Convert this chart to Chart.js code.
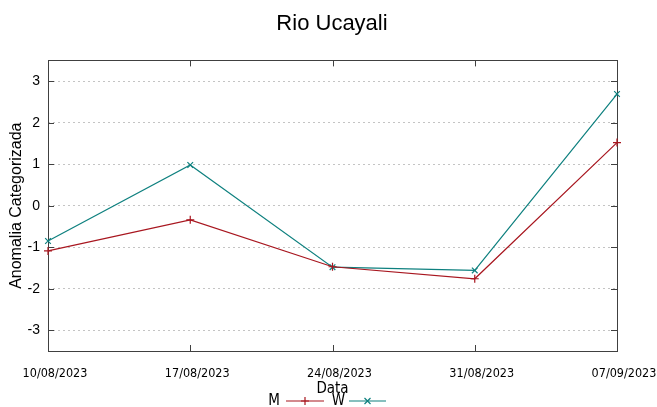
<!DOCTYPE html>
<html>
<head>
<meta charset="utf-8">
<script src="https://cdn.jsdelivr.net/npm/chart.js@4"></script>
<style>
  html, body { margin: 0; padding: 0; background: #fff; }
  #chart { display: block; }
</style>
</head>
<body>
<canvas id="chart" width="657" height="407"></canvas>
<script>
const dates = ['10/08/2023', '17/08/2023', '24/08/2023', '31/08/2023', '07/09/2023'];
const seriesNames = ['M', 'W'];
const mValues = [-1.09, -0.34, -1.47, -1.76, 1.52];
const wValues = [-0.85, 0.98, -1.48, -1.56, 2.69];
const yTicks = [-3, -2, -1, 0, 1, 2, 3];

const RED = '#a8161f';
const TEAL = '#0e807f';
const NARROW = "'Liberation Sans Narrow', 'DejaVu Sans Condensed', sans-serif";
const SANS = "'Liberation Sans', Arial, sans-serif";

// frame + inside tick marks, gnuplot style
const framePlugin = {
    id: 'frame',
    beforeDatasetsDraw(chart) {
        const { ctx, chartArea: a, scales } = chart;
        ctx.save();
        ctx.strokeStyle = '#404040';
        ctx.lineWidth = 1;
        ctx.beginPath();
        scales.y.ticks.forEach(t => {
            const y = Math.round(scales.y.getPixelForValue(t.value)) + 0.5;
            ctx.moveTo(a.left, y); ctx.lineTo(a.left + 6, y);
            ctx.moveTo(a.right, y); ctx.lineTo(a.right - 6, y);
        });
        scales.x.ticks.forEach((t, i) => {
            const x = Math.round(scales.x.getPixelForTick(i)) + 0.5;
            ctx.moveTo(x, a.bottom); ctx.lineTo(x, a.bottom - 6);
            ctx.moveTo(x, a.top); ctx.lineTo(x, a.top + 6);
        });
        ctx.stroke();
        ctx.strokeRect(Math.round(a.left) + 0.5, Math.round(a.top) + 0.5,
            Math.round(a.right - a.left), Math.round(a.bottom - a.top));
        ctx.restore();
    }
};

// legend: label text first, then line sample with marker
const legendPlugin = {
    id: 'sideLegend',
    afterDraw(chart) {
        const { ctx } = chart;
        const y = 401;
        const slots = [{ textEnd: 280, lineStart: 286, lineEnd: 324 },
                       { textEnd: 345, lineStart: 349, lineEnd: 386 }];
        ctx.save();
        chart.data.datasets.forEach((ds, i) => {
            const s = slots[i];
            ctx.fillStyle = '#000';
            ctx.font = '15px ' + NARROW;
            ctx.textAlign = 'right';
            ctx.textBaseline = 'middle';
            ctx.fillText(ds.label, s.textEnd, y);
            ctx.strokeStyle = ds.borderColor;
            ctx.lineWidth = 1.2;
            ctx.beginPath();
            ctx.moveTo(s.lineStart, y);
            ctx.lineTo(s.lineEnd, y);
            ctx.stroke();
            const mx = (s.lineStart + s.lineEnd) / 2;
            ctx.beginPath();
            if (ds.pointStyle === 'cross') {
                ctx.moveTo(mx - 4, y); ctx.lineTo(mx + 4, y);
                ctx.moveTo(mx, y - 4); ctx.lineTo(mx, y + 4);
            } else {
                ctx.moveTo(mx - 3, y - 3); ctx.lineTo(mx + 3, y + 3);
                ctx.moveTo(mx + 3, y - 3); ctx.lineTo(mx - 3, y + 3);
            }
            ctx.stroke();
        });
        ctx.restore();
    }
};

new Chart(document.getElementById('chart').getContext('2d'), {
    type: 'line',
    data: {
        labels: dates,
        datasets: [
            {
                label: seriesNames[0],
                data: mValues,
                borderColor: RED,
                backgroundColor: RED,
                borderWidth: 1.2,
                pointStyle: 'cross',
                pointRadius: 4,
                pointBorderWidth: 1.2,
                tension: 0,
                clip: false
            },
            {
                label: seriesNames[1],
                data: wValues,
                borderColor: TEAL,
                backgroundColor: TEAL,
                borderWidth: 1.2,
                pointStyle: 'crossRot',
                pointRadius: 4,
                pointBorderWidth: 1.2,
                tension: 0,
                clip: false
            }
        ]
    },
    options: {
        responsive: false,
        animation: false,
        layout: { padding: { left: 7, right: 0, top: 0, bottom: 0 } },
        plugins: {
            legend: { display: false },
            tooltip: { enabled: false },
            title: {
                display: true,
                text: 'Rio Ucayali',
                color: '#000',
                font: { family: SANS, size: 22, weight: 'normal' },
                padding: { top: 11, bottom: 23 }
            }
        },
        scales: {
            x: {
                type: 'category',
                offset: false,
                grid: { display: false, drawTicks: false },
                border: { display: false },
                ticks: {
                    color: '#000',
                    font: { family: NARROW, size: 12.5 },
                    padding: 15,
                    labelOffset: 7,
                    maxRotation: 0,
                    autoSkip: false
                },
                title: {
                    display: true,
                    text: 'Data',
                    color: '#000',
                    font: { family: NARROW, size: 15 },
                    padding: { top: 0, bottom: 9 }
                },
                afterFit(scale) {
                    scale.height = 56;
                    scale.paddingLeft = 0;
                    scale.paddingRight = 40;
                }
            },
            y: {
                min: -3.5,
                max: 3.5,
                afterBuildTicks(scale) { scale.ticks = yTicks.map(v => ({ value: v })); },
                grid: { color: '#c4c4c4', lineWidth: 1, drawTicks: false },
                border: { display: false, dash: [2, 3] },
                ticks: {
                    color: '#000',
                    font: { family: SANS, size: 14 },
                    padding: 8
                },
                title: {
                    display: true,
                    text: 'Anomalia Categorizada',
                    color: '#000',
                    font: { family: SANS, size: 16 },
                    padding: { top: 0, bottom: 0 }
                },
                afterFit(scale) {
                    scale.width = 41;
                    scale.paddingTop = 0;
                    scale.paddingBottom = 0;
                }
            }
        }
    },
    plugins: [framePlugin, legendPlugin]
});
</script>
</body>
</html>
